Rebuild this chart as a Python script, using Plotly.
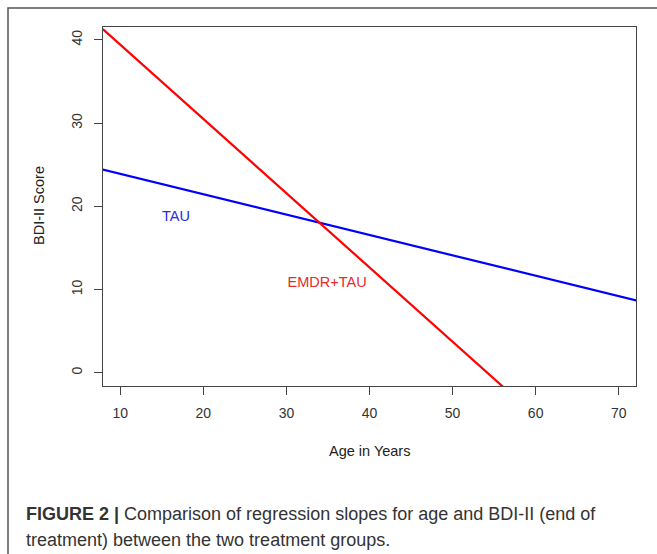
import plotly.graph_objects as go

# ---- data ----
age = [7.9, 72.1]
tau_bdi = [24.4, 8.7]
emdr_bdi = [41.3, -16.0]
x_ticks = [10, 20, 30, 40, 50, 60, 70]
y_ticks = [0, 10, 20, 30, 40]
group_labels = ["TAU", "EMDR+TAU"]
label_age = [16.7, 34.9]
label_bdi = [18.7, 10.7]
x_title = "Age in Years"
y_title = "BDI-II Score"
caption_bold = "FIGURE 2 |"
caption_rest = " Comparison of regression slopes for age and BDI-II (end of"
caption_line2 = "treatment) between the two treatment groups."

W, H = 657, 554
L, R, T, B = 103, 636, 27, 386

fig = go.Figure()
fig.add_trace(go.Scatter(x=age, y=tau_bdi, mode="lines",
                         line=dict(color="#0000ff", width=2.2), showlegend=False))
fig.add_trace(go.Scatter(x=age, y=emdr_bdi, mode="lines",
                         line=dict(color="#ff0000", width=2.2), showlegend=False))
fig.add_trace(go.Scatter(x=label_age, y=label_bdi, mode="text", text=group_labels,
                         textfont=dict(family="Liberation Sans", size=14.5,
                                       color=["#2b2be6", "#e62b2b"]),
                         showlegend=False, cliponaxis=False))

axis_common = dict(showgrid=False, zeroline=False, showline=True, mirror=True,
                   linecolor="#444", linewidth=1.3, ticks="outside", ticklen=8,
                   tickwidth=1.3, tickcolor="#444",
                   tickfont=dict(family="Liberation Sans", size=14, color="#333"))

cap_font = dict(family="Liberation Sans", size=18, color="#333")

fig.update_layout(
    width=W, height=H,
    margin=dict(l=0, r=0, t=0, b=0),
    paper_bgcolor="white", plot_bgcolor="white",
    xaxis=dict(range=[7.92, 72.08], tickvals=x_ticks,
               domain=[L / W, R / W], ticklabelstandoff=6, **axis_common),
    yaxis=dict(range=[-1.6, 41.55], tickvals=y_ticks, tickangle=-90,
               domain=[(H - B) / H, (H - T) / H], ticklabelstandoff=6, **axis_common),
    shapes=[dict(type="rect", xref="paper", yref="paper",
                 x0=8 / W, x1=1.05, y0=-0.05, y1=1 - 8 / H,
                 line=dict(color="#555", width=1.5))],
    annotations=[
        dict(text=x_title, xref="paper", yref="paper", x=(L + R) / 2 / W, y=1 - 451 / H,
             showarrow=False, xanchor="center", yanchor="middle",
             font=dict(family="Liberation Sans", size=14.5, color="#222")),
        dict(text=y_title, xref="paper", yref="paper", x=39 / W, y=1 - 206 / H,
             showarrow=False, xanchor="center", yanchor="middle", textangle=-90,
             font=dict(family="Liberation Sans", size=14.5, color="#222")),
        dict(text="<b>" + caption_bold + "</b>" + caption_rest,
             xref="paper", yref="paper", x=24 / W, y=1 - 514 / H,
             showarrow=False, xanchor="left", yanchor="middle", align="left",
             font=cap_font),
        dict(text=caption_line2,
             xref="paper", yref="paper", x=24 / W, y=1 - 540 / H,
             showarrow=False, xanchor="left", yanchor="middle", align="left",
             font=cap_font),
    ],
)

fig.write_html("out.html", config={"displayModeBar": False},
               post_script="document.body.style.margin='0';document.body.style.overflow='hidden';")
